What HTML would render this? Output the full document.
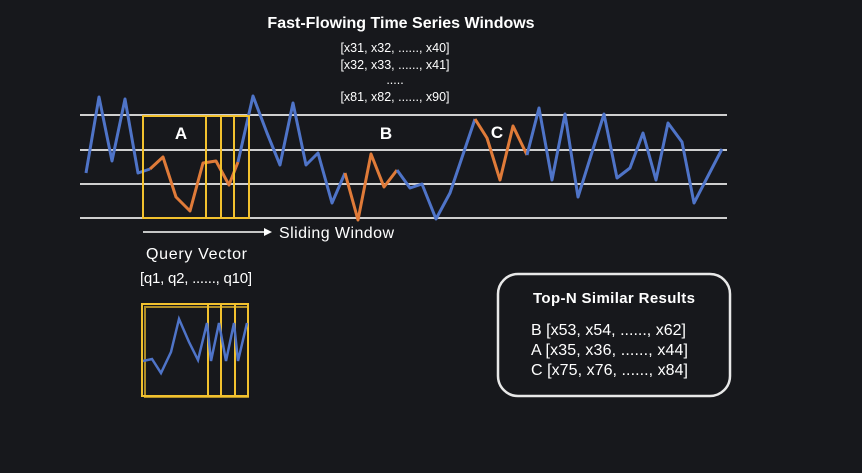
<!DOCTYPE html>
<html><head><style>
body{margin:0;background:#17181c;}
svg text{font-family:"Liberation Sans",sans-serif;fill:#fff;}
</style></head><body>
<svg width="862" height="468" viewBox="0 0 862 468" xmlns="http://www.w3.org/2000/svg">
<rect width="862" height="468" fill="#17181c"/>
<text x="401" y="28" font-size="16" font-weight="bold" text-anchor="middle">Fast-Flowing Time Series Windows</text>
<g font-size="12.5" text-anchor="middle" fill="#ddd">
<text x="395" y="52">[x31, x32, ......, x40]</text>
<text x="395" y="69">[x32, x33, ......, x41]</text>
<text x="395" y="84">.....</text>
<text x="395" y="101">[x81, x82, ......, x90]</text>
</g>
<g stroke="#cfcfcf" stroke-width="2">
<line x1="80" y1="115" x2="727" y2="115"/>
<line x1="80" y1="150" x2="727" y2="150"/>
<line x1="80" y1="184" x2="727" y2="184"/>
<line x1="80" y1="218" x2="727" y2="218"/>
</g>
<g fill="none" stroke-width="3" stroke-linejoin="round">
<polyline stroke="#4f74c8" points="86,173 99,97 112,161 125,99 138,173 150,169"/>
<polyline stroke="#e07b39" points="150,169 163,157 176,197 190,211 203,163 216,161 229,185 238,162"/>
<polyline stroke="#4f74c8" points="238,162 253,96 267,133 280,165 293,103 306,165 318,153 332,203 345,173"/>
<polyline stroke="#e07b39" points="345,173 358,220 371,154 384,187 397,170"/>
<polyline stroke="#4f74c8" points="397,170 410,188 422,184 436,219 450,193 475,119"/>
<polyline stroke="#e07b39" points="475,119 487,138 500,180 513,126 527,155"/>
<polyline stroke="#4f74c8" points="527,155 539,108 552,180 565,114 578,197 604,114 617,178 630,168 643,133 656,180 668,123 682,142 694,203 722,149"/>
</g>
<g fill="none" stroke="#f2c12e" stroke-width="2">
<rect x="143" y="116" width="63" height="102"/>
<rect x="206" y="116" width="15" height="102"/>
<rect x="221" y="116" width="13" height="102"/>
<rect x="234" y="116" width="15" height="102"/>
</g>
<text x="181" y="139" font-size="17" font-weight="bold" text-anchor="middle">A</text>
<text x="386" y="139" font-size="17" font-weight="bold" text-anchor="middle">B</text>
<text x="497" y="138" font-size="17" font-weight="bold" text-anchor="middle">C</text>
<line x1="143" y1="232" x2="266" y2="232" stroke="#fff" stroke-width="1.5"/>
<polygon points="272,232 264,228 264,236" fill="#fff"/>
<text x="279" y="238" font-size="16" textLength="115">Sliding Window</text>
<text x="146" y="259" font-size="16" textLength="101">Query Vector</text>
<text x="140" y="283" font-size="15" textLength="112">[q1, q2, ......, q10]</text>
<g fill="none" stroke="#f2c12e" stroke-width="2">
<rect x="145" y="307" width="103" height="90" opacity="0.7"/>
<rect x="142" y="304" width="66" height="92"/>
<rect x="208" y="304" width="13" height="92"/>
<rect x="221" y="304" width="14" height="92"/>
<rect x="235" y="304" width="13" height="92"/>
</g>
<polyline fill="none" stroke="#4f74c8" stroke-width="2.5" points="143,361 152,359 161,373 171,352 179,319 189,342 198,360 207,323 211,361 219,323 226,361 234,323 238,361 247,323"/>
<rect x="498" y="274" width="232" height="122" rx="20" fill="none" stroke="#e8e8e8" stroke-width="2.5"/>
<text x="533" y="303" font-size="15" font-weight="bold" textLength="162">Top-N Similar Results</text>
<g font-size="16">
<text x="531" y="335" textLength="155">B [x53, x54, ......, x62]</text>
<text x="531" y="355" textLength="157">A [x35, x36, ......, x44]</text>
<text x="531" y="375" textLength="157">C [x75, x76, ......, x84]</text>
</g>
</svg>
</body></html>
